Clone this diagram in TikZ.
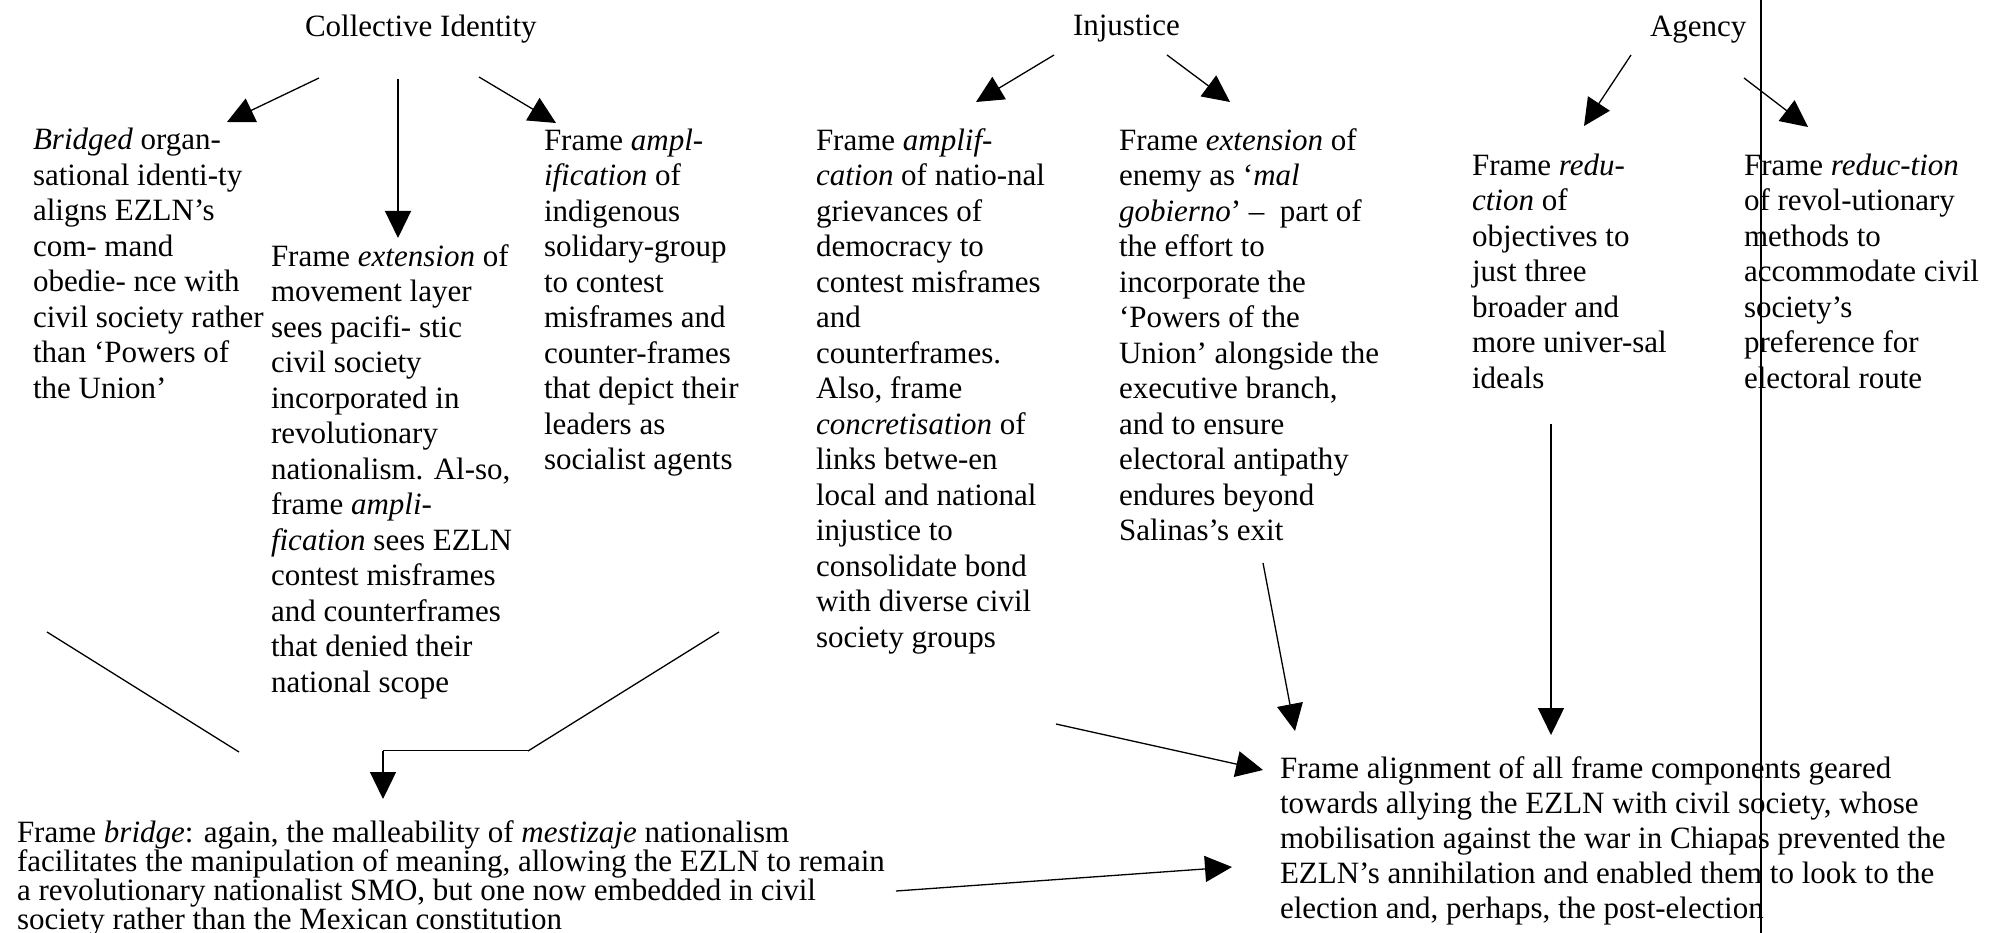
\documentclass[tikz,border=0pt]{standalone}
\usepackage{fontspec}
\setmainfont{Liberation Serif}
\usetikzlibrary{arrows.meta}
\newcommand{\topstrut}{\rule{0pt}{25pt}}
\begin{document}
\begin{tikzpicture}[x=1pt,y=-1pt,
  txt/.style={anchor=north west, inner sep=0pt, outer sep=0pt, align=left, font=\fontsize{31}{35.5}\selectfont},
  head/.style={anchor=base west, inner sep=0pt, outer sep=0pt, font=\fontsize{31}{35.5}\selectfont},
  link/.style={line width=1.3pt, -{Triangle[length=27pt,width=26pt]}},
  plain/.style={line width=1.3pt},
  dbl/.style={double, double distance=1.2pt, line width=0.9pt}
]
\useasboundingbox (0,0) rectangle (2004,933);

% headers
\node[head] (ci)  at (305,37) {Collective Identity};
\node[head] (inj) at (1073,36) {Injustice};
\node[head] (ag)  at (1650,37) {Agency};

% text blocks
\node[txt] (b1) at (33,124.5) {\topstrut\textit{Bridged} organ-\\
sational identi-ty\\
aligns EZLN’s\\
com- mand\\
obedie- nce with\\
civil society rather\\
than ‘Powers of\\
the Union’};

\node[txt] (b2) at (271,241) {\topstrut Frame \textit{extension} of\\
movement layer\\
sees pacifi- stic\\
civil society\\
incorporated in\\
revolutionary\\
nationalism. Al-so,\\
frame \textit{ampli-}\\
\textit{fication} sees EZLN\\
contest misframes\\
and counterframes\\
that denied their\\
national scope};

\node[txt] (b3) at (544,125) {\topstrut Frame \textit{ampl-}\\
\textit{ification} of\\
indigenous\\
solidary-group\\
to contest\\
misframes and\\
counter-frames\\
that depict their\\
leaders as\\
socialist agents};

\node[txt] (b4) at (816,125) {\topstrut Frame \textit{amplif-}\\
\textit{cation} of natio-nal\\
grievances of\\
democracy to\\
contest misframes\\
and\\
counterframes.\\
Also, frame\\
\textit{concretisation} of\\
links betwe-en\\
local and national\\
injustice to\\
consolidate bond\\
with diverse civil\\
society groups};

\node[txt] (b5) at (1119,125) {\topstrut Frame \textit{extension} of\\
enemy as ‘\textit{mal}\\
\textit{gobierno}’ –\enspace part of\\
the effort to\\
incorporate the\\
‘Powers of the\\
Union’ alongside the\\
executive branch,\\
and to ensure\\
electoral antipathy\\
endures beyond\\
Salinas’s exit};

\node[txt] (b6) at (1472,150) {\topstrut Frame \textit{redu-}\\
\textit{ction} of\\
objectives to\\
just three\\
broader and\\
more univer-sal\\
ideals};

\node[txt] (b7) at (1744,150) {\topstrut Frame \textit{reduc-tion}\\
of revol-utionary\\
methods to\\
accommodate civil\\
society’s\\
preference for\\
electoral route};

\node[txt, font=\fontsize{31}{29.3}\selectfont] (b8) at (17,817) {\topstrut Frame \textit{bridge}: again, the malleability of \textit{mestizaje} nationalism\\
facilitates the manipulation of meaning, allowing the EZLN to remain\\
a revolutionary nationalist SMO, but one now embedded in civil\\
society rather than the Mexican constitution};

\node[txt, font=\fontsize{31}{35}\selectfont] (b9) at (1280,753) {\topstrut Frame alignment of all frame components geared\\
towards allying the EZLN with civil society, whose\\
mobilisation against the war in Chiapas prevented the\\
EZLN’s annihilation and enabled them to look to the\\
election and, perhaps, the post-election};

% connector end points
\coordinate (a1s) at (319,78);   \coordinate (a1e) at (227,122);
\coordinate (a2s) at (398,79);   \coordinate (a2e) at (398,238);
\coordinate (a3s) at (479,77);   \coordinate (a3e) at (556,123);
\coordinate (j1s) at (1054,55);  \coordinate (j1e) at (976,102);
\coordinate (j2s) at (1167,55);  \coordinate (j2e) at (1230,102);
\coordinate (g1s) at (1631,55);  \coordinate (g1e) at (1584,126);
\coordinate (g2s) at (1744,78);  \coordinate (g2e) at (1808,127);
\coordinate (d1s) at (1551,424); \coordinate (d1e) at (1551,735);
\coordinate (d2s) at (1263,563); \coordinate (d2e) at (1295,731);
\coordinate (d3s) at (1056,724); \coordinate (d3e) at (1263,770);
\coordinate (d4s) at (896,891);  \coordinate (d4e) at (1232,867);
\coordinate (e1s) at (47,632);   \coordinate (e1e) at (239,752);
\coordinate (e2s) at (719,632);  \coordinate (e2e) at (528,751);
\coordinate (dl1) at (528,749);  \coordinate (dl2) at (383,749);
\coordinate (f1s) at (383,751);  \coordinate (f1e) at (383,799);
\coordinate (vt) at (1761,0);    \coordinate (vb) at (1761,933);

% arrows
\draw[link] (a1s) -- (a1e);
\draw[link] (a2s) -- (a2e);
\draw[link] (a3s) -- (a3e);
\draw[link] (j1s) -- (j1e);
\draw[link] (j2s) -- (j2e);
\draw[link] (g1s) -- (g1e);
\draw[link] (g2s) -- (g2e);
\draw[link] (d1s) -- (d1e);
\draw[link] (d2s) -- (d2e);
\draw[link] (d3s) -- (d3e);
\draw[link] (d4s) -- (d4e);
\draw[plain] (e1s) -- (e1e);
\draw[plain] (e2s) -- (e2e);
\draw[dbl] (dl1) -- (dl2);
\draw[link] (f1s) -- (f1e);
\draw[line width=1.5pt] (vt) -- (vb);
\end{tikzpicture}
\end{document}
